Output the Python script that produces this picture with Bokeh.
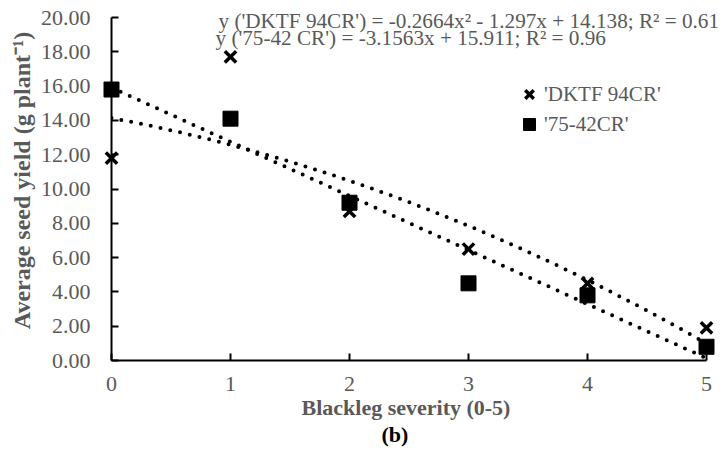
import numpy as np
from bokeh.plotting import figure
from bokeh.models import Range1d, FixedTicker, NumeralTickFormatter, Label, Legend, LegendItem, Title
from bokeh.embed import file_html
from bokeh.resources import INLINE

# ---- data ----
severity = [0, 1, 2, 3, 4, 5]
dktf_yield = [11.8, 17.7, 8.7, 6.5, 4.5, 1.9]
cr7542_yield = [15.8, 14.1, 9.2, 4.5, 3.8, 0.8]
dktf_coef = [-0.2664, -1.297, 14.138]   # quadratic trend (from chart equation)
cr7542_coef = [-3.1563, 15.911]         # linear trend (from chart equation)
x_ticks = [0, 1, 2, 3, 4, 5]
y_ticks = [0, 2, 4, 6, 8, 10, 12, 14, 16, 18, 20]
eq_dktf = "y ('DKTF 94CR') = -0.2664x\u00b2 - 1.297x + 14.138; R\u00b2 = 0.61"
eq_cr = "y ('75-42 CR') = -3.1563x + 15.911; R\u00b2 = 0.96"
series_names = ["'DKTF 94CR'", "'75-42CR'"]
x_title = "Blackleg severity (0-5)"
y_title = "Average seed yield (g plant\u207b\u00b9)"
panel_tag = "(b)"

FONT = "Liberation Serif"
GREY = "#595959"
FS = "21px"
TFS = "22px"

# frame: left 111 .. right edge 725, top edge 0 .. 360 ; axis bounds keep axes at 0-5 / 0-20
p = figure(width=725, height=452, output_backend="svg", toolbar_location=None,
           x_range=Range1d(0, 5 * 614 / 595), y_range=Range1d(0, 20 * 360 / 343),
           min_border_left=111, min_border_right=0, min_border_top=0, min_border_bottom=92)
p.outline_line_color = None
p.xgrid.visible = False
p.ygrid.visible = False

for ax in (p.xaxis[0], p.yaxis[0]):
    ax.axis_line_width = 2
    ax.axis_line_color = "black"
    ax.major_tick_line_width = 2
    ax.major_tick_line_color = "black"
    ax.major_tick_in = 7
    ax.major_tick_out = 0
    ax.minor_tick_in = 0
    ax.minor_tick_out = 0
    ax.major_label_text_font = FONT
    ax.major_label_text_font_size = TFS
    ax.major_label_text_color = GREY

p.xaxis[0].major_label_standoff = 16
p.yaxis[0].major_label_standoff = 21
p.xaxis[0].bounds = (0, 5)
p.yaxis[0].bounds = (0, 20)
p.xaxis[0].ticker = FixedTicker(ticks=x_ticks)
p.yaxis[0].ticker = FixedTicker(ticks=y_ticks)
p.yaxis[0].formatter = NumeralTickFormatter(format="0.00")
p.yaxis[0].axis_label = y_title
p.yaxis[0].axis_label_text_font = FONT
p.yaxis[0].axis_label_text_font_style = "bold"
p.yaxis[0].axis_label_text_font_size = "24px"
p.yaxis[0].axis_label_text_color = GREY
p.yaxis[0].axis_label_standoff = 3

# trend lines
xs = np.linspace(0, 5, 200)
y_dktf_fit = np.polyval(dktf_coef, xs)
y_cr_fit = np.polyval(cr7542_coef, xs)
p.line(xs, y_dktf_fit, line_color="black", line_width=4, line_dash="0 10", line_cap="round")
p.line(xs, y_cr_fit, line_color="black", line_width=4, line_dash="0 10", line_cap="round")

r1 = p.scatter(severity, dktf_yield, marker="x", size=16, line_width=3.5, line_color="black", level="overlay")
r2 = p.scatter(severity, cr7542_yield, marker="square", size=15, fill_color="black", line_color="black", line_width=1, level="overlay")

legend = Legend(items=[LegendItem(label=series_names[0], renderers=[r1]),
                       LegendItem(label=series_names[1], renderers=[r2])],
                location=(403, 221), border_line_color=None, background_fill_alpha=0,
                padding=0, margin=0, spacing=-4, glyph_width=30, glyph_height=30,
                label_standoff=0, label_text_font=FONT, label_text_font_size=FS,
                label_text_color=GREY, label_height=26)
p.add_layout(legend, "center")

# equations
EFS = "21.2px"
p.add_layout(Label(x=107, y=340, x_units="screen", y_units="screen", text=eq_dktf,
                   text_font=FONT, text_font_size=EFS, text_color=GREY,
                   text_baseline="middle", text_align="left"))
p.add_layout(Label(x=104, y=323, x_units="screen", y_units="screen", text=eq_cr,
                   text_font=FONT, text_font_size=EFS, text_color=GREY,
                   text_baseline="middle", text_align="left"))

# x title and panel tag below the axis
p.add_layout(Title(text=x_title, align="left", offset=190, standoff=0, vertical_align="middle",
                   text_font=FONT, text_font_size="22px", text_font_style="bold",
                   text_color=GREY), "below")
p.add_layout(Title(text=panel_tag, align="left", offset=270, standoff=0, vertical_align="middle",
                   text_font=FONT, text_font_size="22px", text_font_style="bold",
                   text_color="black"), "below")

open("out.html", "w").write(file_html(p, INLINE))
